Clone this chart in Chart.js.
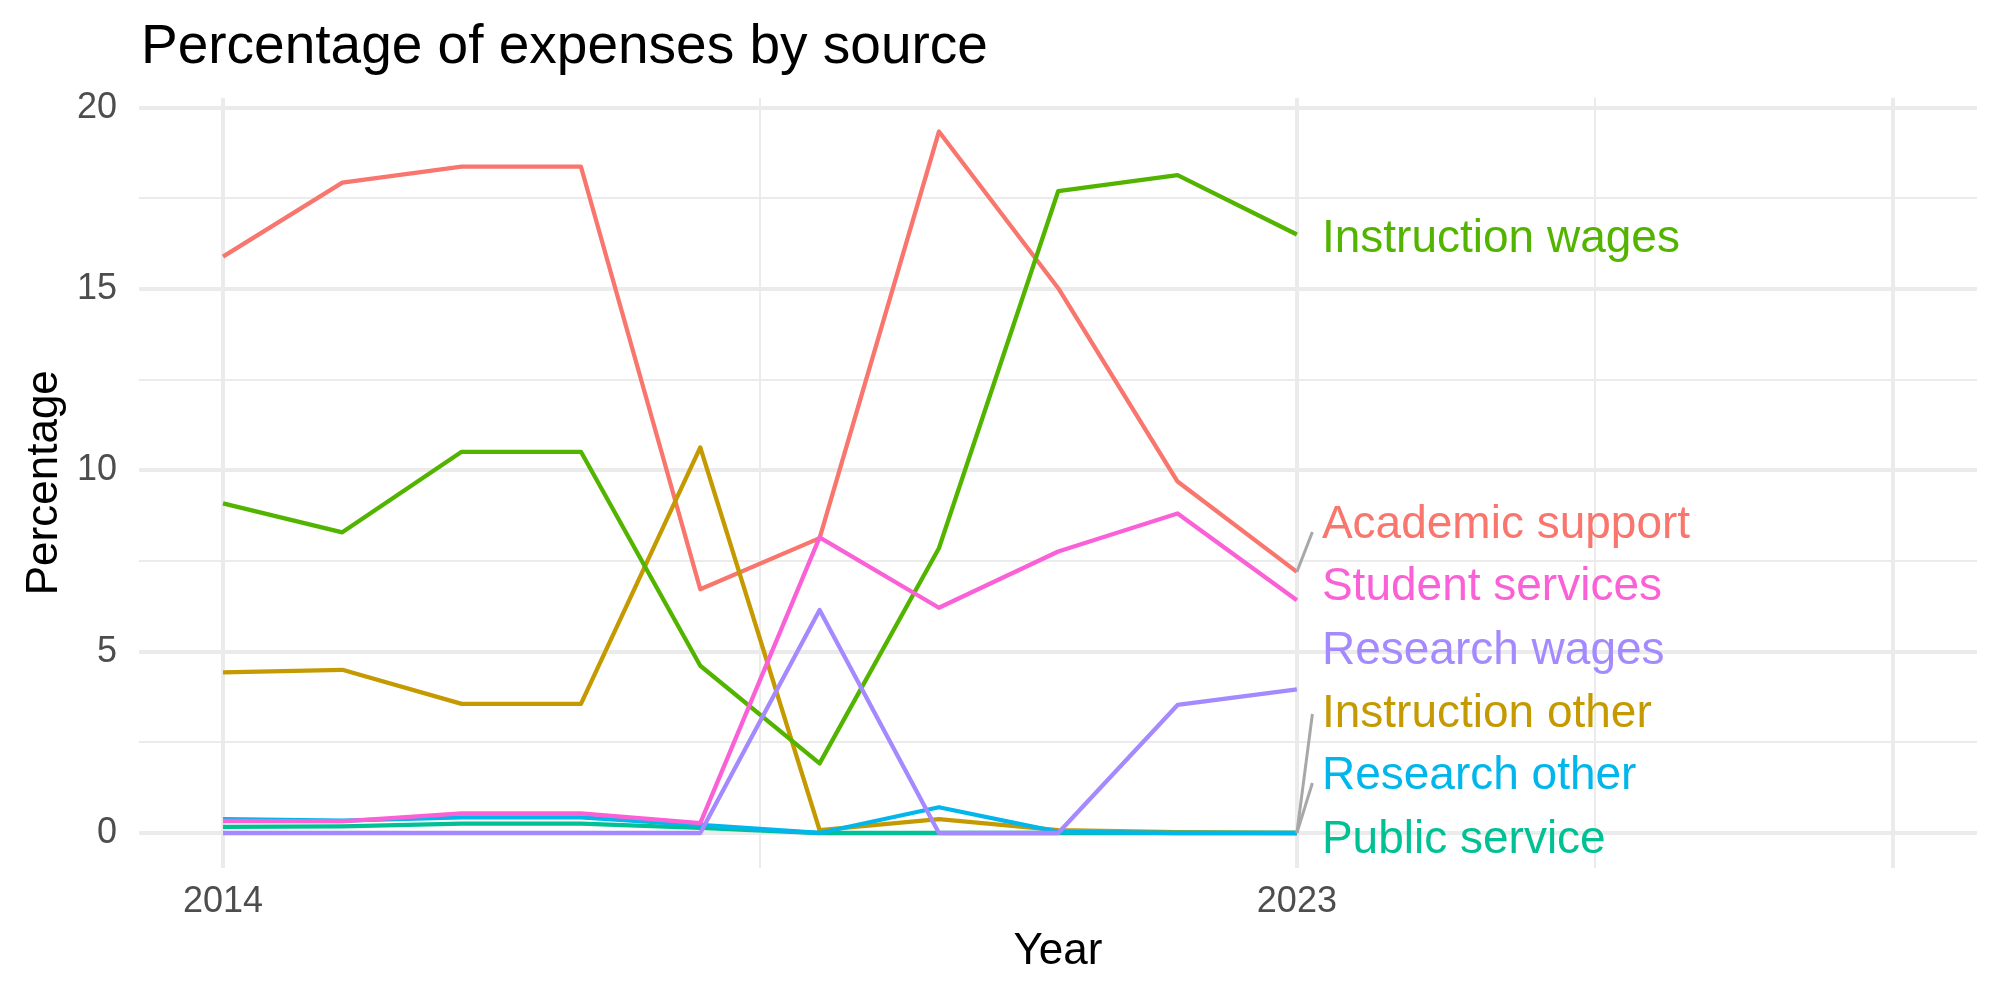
<!DOCTYPE html>
<html>
<head>
<meta charset="utf-8">
<script src="https://cdn.jsdelivr.net/npm/chart.js@4.4.1/dist/chart.umd.min.js"></script>
<style>
  html, body { margin: 0; padding: 0; background: #ffffff; }
  canvas { display: block; }
</style>
</head>
<body>
<canvas id="expensesChart" width="2000" height="1000"></canvas>
<script>
// Years on the x axis
const years = [2014, 2015, 2016, 2017, 2018, 2019, 2020, 2021, 2022, 2023];

// Series names (alphabetical, same as the ggplot factor order)
const seriesNames = ["Academic support", "Instruction other", "Instruction wages",
    "Public service", "Research other", "Research wages", "Student services"];

// Percentage values per series
const academicSupport = [15.89, 17.93, 18.37, 18.37, 6.72, 8.13, 19.34, 15.02, 9.69, 7.20];
const instructionOther = [4.43, 4.50, 3.56, 3.56, 10.63, 0.08, 0.38, 0.08, 0.02, 0.00];
const instructionWages = [9.09, 8.29, 10.51, 10.51, 4.61, 1.92, 7.85, 17.70, 18.14, 16.50];
const publicService = [0.17, 0.18, 0.26, 0.26, 0.14, 0.00, 0.00, 0.00, 0.00, 0.00];
const researchOther = [0.38, 0.34, 0.43, 0.43, 0.22, 0.00, 0.71, 0.03, 0.00, 0.00];
const researchWages = [0.00, 0.00, 0.00, 0.00, 0.00, 6.15, 0.00, 0.00, 3.53, 3.96];
const studentServices = [0.33, 0.32, 0.54, 0.54, 0.27, 8.15, 6.21, 7.76, 8.81, 6.42];

const seriesValues = [academicSupport, instructionOther, instructionWages,
    publicService, researchOther, researchWages, studentServices];

const seriesColors = ["#F8766D", "#C49A00", "#53B400", "#00C094", "#00B6EB", "#A58AFF", "#FB61D7"];

// Ticks
const xMajorTicks = [2014, 2023, 2028];
const xMinorTicks = [2018.5, 2025.5];
const xTickLabels = ["2014", "2023"];
const yMajorTicks = [0, 5, 10, 15, 20];
const yMinorTicks = [2.5, 7.5, 12.5, 17.5];
const yTickLabels = ["0", "5", "10", "15", "20"];

// Repelled end labels: y position of each label, and where its leader segment ends (null = none)
const labelY = [8.47, 3.26, 16.36, -0.21, 1.55, 5.00, 6.76];
const segmentEndY = [8.30, 3.28, null, null, 1.38, null, null];

const FONT = "'Liberation Sans', Arial, Helvetica, sans-serif";
const GRID = "#EBEBEB";

const endLabels = {
    id: "endLabels",
    afterDatasetsDraw(chart) {
        const { ctx, scales: { x, y } } = chart;
        const lastX = years[years.length - 1];
        ctx.save();
        // leader segments
        ctx.strokeStyle = "#A8A8A8";
        ctx.lineWidth = 3;
        ctx.lineCap = "butt";
        seriesNames.forEach((name, i) => {
            if (segmentEndY[i] === null) return;
            const vals = seriesValues[i];
            ctx.beginPath();
            ctx.moveTo(x.getPixelForValue(lastX), y.getPixelForValue(vals[vals.length - 1]));
            ctx.lineTo(x.getPixelForValue(lastX + 0.13), y.getPixelForValue(segmentEndY[i]));
            ctx.stroke();
        });
        // label text
        ctx.font = "46px " + FONT;
        ctx.textAlign = "left";
        ctx.textBaseline = "middle";
        seriesNames.forEach((name, i) => {
            ctx.fillStyle = seriesColors[i];
            ctx.fillText(name, x.getPixelForValue(lastX + 0.21), y.getPixelForValue(labelY[i]));
        });
        ctx.restore();
    }
};

const plotTitle = {
    id: "plotTitle",
    afterDraw(chart) {
        const { ctx } = chart;
        ctx.save();
        ctx.font = "55px " + FONT;
        ctx.fillStyle = "#000000";
        ctx.textAlign = "left";
        ctx.textBaseline = "alphabetic";
        ctx.fillText("Percentage of expenses by source", 141, 63);
        ctx.restore();
    }
};

const ctx = document.getElementById("expensesChart").getContext("2d");
new Chart(ctx, {
    type: "line",
    data: {
        datasets: seriesNames.map((name, i) => ({
            label: name,
            data: years.map((yr, j) => ({ x: yr, y: seriesValues[i][j] })),
            borderColor: seriesColors[i],
            backgroundColor: seriesColors[i],
            borderWidth: 4.3,
            borderJoinStyle: "round",
            pointRadius: 0,
            tension: 0,
            fill: false,
            order: -i // later series drawn on top, like ggplot
        }))
    },
    options: {
        responsive: false,
        devicePixelRatio: 1,
        animation: false,
        layout: { padding: { top: 97.7, right: 23, bottom: 0, left: 0 } },
        plugins: {
            legend: { display: false },
            title: { display: false },
            tooltip: { enabled: false }
        },
        scales: {
            x: {
                type: "linear",
                min: 2013.296,
                max: 2028.70,
                afterBuildTicks: (scale) => {
                    scale.ticks = xMajorTicks.concat(xMinorTicks).sort((a, b) => a - b).map(v => ({ value: v }));
                },
                afterFit: (scale) => { scale.height = 132.3; },
                ticks: {
                    autoSkip: false,
                    maxRotation: 0,
                    padding: 13,
                    color: "#4D4D4D",
                    font: { family: FONT, size: 36 },
                    callback: (value) => {
                        const k = xMajorTicks.indexOf(value);
                        return k >= 0 && k < xTickLabels.length ? xTickLabels[k] : "";
                    }
                },
                grid: {
                    color: GRID,
                    drawTicks: false,
                    lineWidth: (c) => xMajorTicks.includes(c.tick && c.tick.value) ? 4 : 2
                },
                border: { display: false },
                title: {
                    display: true,
                    text: "Year",
                    color: "#000000",
                    font: { family: FONT, size: 44 },
                    padding: { top: 0, bottom: 22 }
                }
            },
            y: {
                min: -0.957,
                max: 20.273,
                afterBuildTicks: (scale) => {
                    scale.ticks = yMajorTicks.concat(yMinorTicks).sort((a, b) => a - b).map(v => ({ value: v }));
                },
                afterFit: (scale) => { scale.width = 139; },
                ticks: {
                    padding: 22,
                    color: "#4D4D4D",
                    font: { family: FONT, size: 36 },
                    callback: (value) => {
                        const k = yMajorTicks.indexOf(value);
                        return k >= 0 ? yTickLabels[k] : "";
                    }
                },
                grid: {
                    color: GRID,
                    drawTicks: false,
                    lineWidth: (c) => yMajorTicks.includes(c.tick && c.tick.value) ? 4 : 2
                },
                border: { display: false },
                title: {
                    display: true,
                    text: "Percentage",
                    color: "#000000",
                    font: { family: FONT, size: 44 },
                    padding: { top: 18, bottom: 0 }
                }
            }
        }
    },
    plugins: [endLabels, plotTitle]
});
</script>
</body>
</html>
